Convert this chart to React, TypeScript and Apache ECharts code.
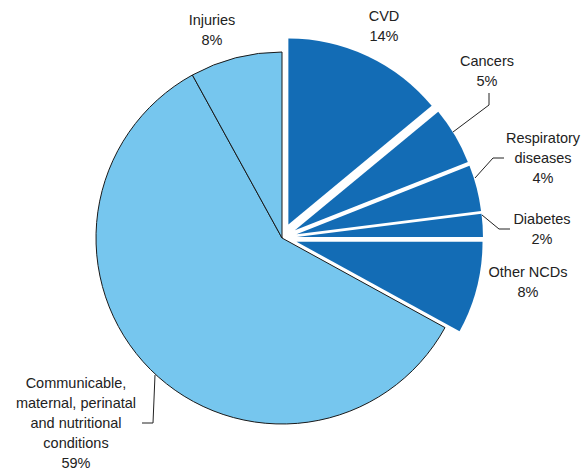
import React, { useEffect, useRef } from "react";
import * as echarts from "echarts";

const categories = [
  "CVD",
  "Cancers",
  "Respiratory\ndiseases",
  "Diabetes",
  "Other NCDs",
  "Communicable,\nmaternal, perinatal\nand nutritional\nconditions",
  "Injuries",
];
const values = [14, 5, 4, 2, 8, 59, 8];
const isNCD = [true, true, true, true, true, false, false];

const DARK = "#136cb5";
const LIGHT = "#76c6ee";
const TEXT = "#222222";
const FONT = "Liberation Sans, Arial, sans-serif";

// label anchor positions (layout only)
const labelPos: number[][] = [
  [384, 26],
  [487, 71],
  [543, 158],
  [542, 229],
  [528, 282],
  [76, 423],
  [212, 30],
];
const labelLines: (number[][] | null)[] = [
  null,
  [[453, 132], [489, 105], [489, 93]],
  [[475, 178], [493, 158], [504, 158]],
  [[482, 215], [499, 229], [510, 229]],
  null,
  [[155, 375], [153, 423], [142, 423]],
  null,
];

export default function App() {
  const ref = useRef<HTMLDivElement>(null);
  useEffect(() => {
    if (!ref.current) return;
    const chart = echarts.init(ref.current, undefined, { renderer: "svg" });
    const data = categories.map((name, i) => {
      const ncd = isNCD[i];
      const itemStyle = ncd
        ? { color: DARK, borderWidth: 0 }
        : { color: LIGHT, borderColor: "#1a1a1a", borderWidth: 1 };
      return {
        name,
        value: values[i],
        selected: ncd,
        itemStyle,
        select: { itemStyle },
        emphasis: { itemStyle },
      };
    });
    const graphics: any[] = [];
    categories.forEach((name, i) => {
      const p = labelPos[i];
      graphics.push({
        type: "text",
        x: p[0],
        y: p[1],
        silent: true,
        style: {
          text: `${name}\n${values[i]}%`,
          align: "center",
          verticalAlign: "middle",
          fontSize: 14.5,
          fontFamily: FONT,
          lineHeight: 20,
          fill: TEXT,
        },
      });
      const ln = labelLines[i];
      if (ln) {
        graphics.push({
          type: "polyline",
          silent: true,
          shape: { points: ln },
          style: { stroke: TEXT, lineWidth: 1, fill: null },
        });
      }
    });
    chart.setOption({
      animation: false,
      backgroundColor: "#ffffff",
      graphic: graphics,
      series: [
        {
          type: "pie",
          center: [282, 238],
          radius: [0, 186],
          startAngle: 90,
          clockwise: true,
          selectedMode: "multiple",
          selectedOffset: 15,
          data,
          label: { show: false },
          labelLine: { show: false },
        },
      ],
    });
    return () => chart.dispose();
  }, []);
  return (
    <div
      ref={ref}
      style={{ position: "absolute", left: 0, top: 0, width: 588, height: 470 }}
    />
  );
}
